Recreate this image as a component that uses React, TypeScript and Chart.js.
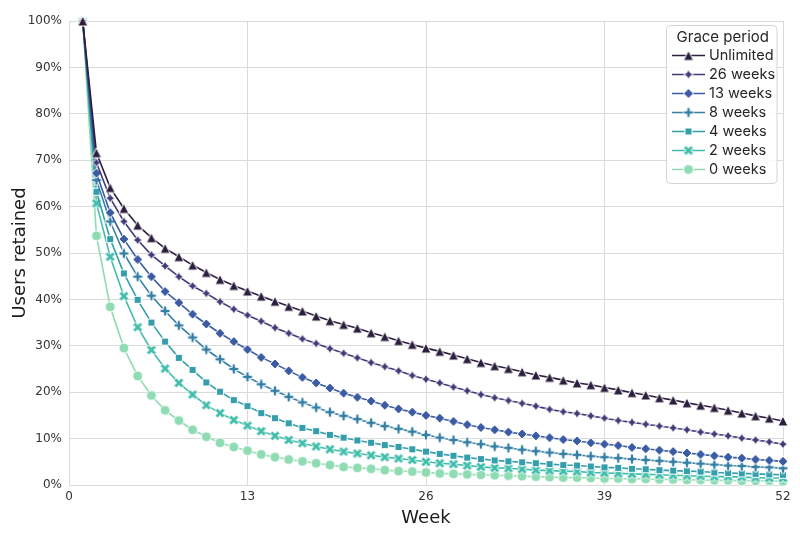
import React, { useEffect, useRef } from "react";
import { Chart, registerables } from "chart.js";

Chart.register(...registerables);

// ---------------- data ----------------
const weeks = [
  1, 2, 3, 4, 5, 6, 7, 8, 9, 10, 11, 12, 13, 14, 15, 16, 17, 18, 19, 20, 21, 22, 23, 24, 25, 26,
  27, 28, 29, 30, 31, 32, 33, 34, 35, 36, 37, 38, 39, 40, 41, 42, 43, 44, 45, 46, 47, 48, 49, 50, 51, 52,
];

const seriesLabels = ["Unlimited", "26 weeks", "13 weeks", "8 weeks", "4 weeks", "2 weeks", "0 weeks"];

const unlimited = [
  100, 71.6, 64.1, 59.6, 56.0, 53.3, 51.0, 49.2, 47.4, 45.8, 44.3, 43.0, 41.8, 40.7, 39.6, 38.5, 37.5,
  36.4, 35.4, 34.6, 33.8, 32.8, 32.0, 31.1, 30.3, 29.5, 28.8, 28.0, 27.2, 26.4, 25.7, 25.1, 24.4, 23.7,
  23.2, 22.6, 22.0, 21.6, 21.0, 20.5, 19.9, 19.4, 18.8, 18.3, 17.7, 17.2, 16.7, 16.1, 15.5, 14.9, 14.4, 13.8,
];
const weeks26 = [
  100, 69.5, 61.8, 56.8, 52.8, 49.6, 47.2, 44.9, 42.9, 41.3, 39.5, 37.9, 36.6, 35.3, 33.9, 32.7, 31.5,
  30.5, 29.4, 28.4, 27.4, 26.4, 25.5, 24.6, 23.6, 22.8, 22.0, 21.1, 20.3, 19.5, 18.8, 18.2, 17.6, 17.0,
  16.3, 15.8, 15.4, 14.9, 14.4, 13.9, 13.5, 13.1, 12.7, 12.3, 11.9, 11.4, 11.0, 10.6, 10.1, 9.7, 9.3, 8.8,
];
const weeks13 = [
  100, 67.2, 58.7, 53.0, 48.6, 44.9, 41.7, 39.3, 36.8, 34.7, 32.7, 30.9, 29.2, 27.5, 26.1, 24.6, 23.2,
  22.0, 20.9, 19.8, 18.9, 18.1, 17.2, 16.4, 15.7, 15.0, 14.4, 13.7, 13.0, 12.4, 11.9, 11.4, 11.0, 10.6,
  10.2, 9.8, 9.5, 9.1, 8.8, 8.5, 8.1, 7.8, 7.5, 7.2, 6.9, 6.6, 6.3, 6.0, 5.8, 5.5, 5.3, 5.1,
];
const weeks8 = [
  100, 65.7, 56.8, 49.9, 44.9, 40.8, 37.5, 34.4, 31.8, 29.2, 27.1, 25.0, 23.3, 21.7, 20.3, 19.0, 17.8,
  16.7, 15.7, 14.9, 14.2, 13.4, 12.7, 12.1, 11.5, 10.8, 10.2, 9.7, 9.2, 8.8, 8.3, 8.0, 7.6, 7.3,
  7.0, 6.7, 6.5, 6.2, 6.0, 5.8, 5.6, 5.4, 5.2, 5.0, 4.8, 4.6, 4.4, 4.2, 4.1, 3.9, 3.8, 3.6,
];
const weeks4 = [
  100, 63.2, 53.0, 45.6, 39.9, 35.0, 30.9, 27.4, 24.8, 22.1, 20.1, 18.3, 17.0, 15.5, 14.4, 13.3, 12.3,
  11.6, 10.8, 10.2, 9.6, 9.1, 8.6, 8.2, 7.7, 7.2, 6.7, 6.3, 5.9, 5.6, 5.3, 5.1, 4.9, 4.7,
  4.5, 4.3, 4.2, 4.0, 3.8, 3.7, 3.5, 3.4, 3.2, 3.1, 3.0, 2.9, 2.7, 2.6, 2.5, 2.4, 2.3, 2.2,
];
const weeks2 = [
  100, 60.7, 49.2, 40.7, 34.0, 29.1, 25.1, 22.0, 19.5, 17.2, 15.5, 14.0, 12.8, 11.6, 10.6, 9.7, 9.0,
  8.3, 7.7, 7.2, 6.8, 6.4, 6.0, 5.7, 5.4, 5.0, 4.7, 4.5, 4.2, 3.9, 3.7, 3.6, 3.4, 3.2,
  3.1, 3.0, 2.9, 2.7, 2.6, 2.5, 2.4, 2.3, 2.2, 2.1, 2.0, 1.9, 1.8, 1.8, 1.7, 1.6, 1.5, 1.5,
];
const weeks0 = [
  100, 53.7, 38.4, 29.5, 23.5, 19.3, 16.1, 13.9, 11.9, 10.4, 9.1, 8.2, 7.4, 6.6, 6.0, 5.5, 5.1,
  4.7, 4.3, 3.9, 3.7, 3.5, 3.2, 3.0, 2.9, 2.7, 2.5, 2.4, 2.3, 2.2, 2.1, 2.0, 1.9, 1.8,
  1.7, 1.6, 1.6, 1.5, 1.4, 1.4, 1.3, 1.3, 1.2, 1.2, 1.1, 1.1, 1.0, 1.0, 0.9, 0.9, 0.9, 0.8,
];

const seriesValues = [unlimited, weeks26, weeks13, weeks8, weeks4, weeks2, weeks0];

const xTicks = [0, 13, 26, 39, 52];
const yTicks = [0, 10, 20, 30, 40, 50, 60, 70, 80, 90, 100];

// ---------------- styles ----------------
const seriesColors = ["#2c1e3d", "#403b77", "#3b5ca4", "#357fa5", "#349eaa", "#41bdab", "#8fdbb2"];
type MarkerKind = "tri" | "star4" | "diamond" | "plus" | "square" | "x" | "circle";
const seriesMarkers: MarkerKind[] = ["tri", "star4", "diamond", "plus", "square", "x", "circle"];

const GRID = "#dadada";
const TEXT = "#333333";
const TICK_FONT = "DejaVu Sans";
const LEGEND_FONT = "Inter, 'Noto Sans', sans-serif";

function makeMarker(kind: MarkerKind, color: string, S = 10): HTMLCanvasElement {
  const size = 16;
  const c = document.createElement("canvas");
  c.width = size;
  c.height = size;
  const ctx = c.getContext("2d")!;
  ctx.translate(size / 2, size / 2);
  const h = S / 2;
  ctx.beginPath();
  const poly = (pts: number[][], k: number) => {
    pts.forEach((p, i) => {
      if (i === 0) ctx.moveTo(p[0] * k, p[1] * k);
      else ctx.lineTo(p[0] * k, p[1] * k);
    });
    ctx.closePath();
  };
  switch (kind) {
    case "circle":
      ctx.arc(0, 0, h, 0, Math.PI * 2);
      break;
    case "tri":
      poly([[0, -1], [1, 1], [-1, 1]], h);
      break;
    case "square": {
      const a = h * Math.SQRT1_2;
      poly([[-a, -a], [a, -a], [a, a], [-a, a]], 1);
      break;
    }
    case "diamond":
      poly([[0, -1], [1, 0], [0, 1], [-1, 0]], h);
      break;
    case "star4": {
      const pts: number[][] = [];
      for (let i = 0; i < 8; i++) {
        const ang = -Math.PI / 2 + (i * Math.PI) / 4;
        const r = i % 2 === 0 ? 1 : 0.5;
        pts.push([Math.cos(ang) * r, Math.sin(ang) * r]);
      }
      poly(pts, h);
      break;
    }
    case "plus":
      poly(
        [[-1, -3], [1, -3], [1, -1], [3, -1], [3, 1], [1, 1], [1, 3], [-1, 3], [-1, 1], [-3, 1], [-3, -1], [-1, -1]],
        S / 6
      );
      break;
    case "x":
      poly(
        [[-1, -2], [0, -1], [1, -2], [2, -1], [1, 0], [2, 1], [1, 2], [0, 1], [-1, 2], [-2, 1], [-1, 0], [-2, -1]],
        S / 4
      );
      break;
  }
  ctx.fillStyle = color;
  ctx.fill();
  ctx.lineWidth = 1;
  ctx.lineJoin = "miter";
  ctx.strokeStyle = "#ffffff";
  ctx.stroke();
  return c;
}

const legendPlugin = {
  id: "graceLegend",
  afterDraw(chart: any) {
    const ctx: CanvasRenderingContext2D = chart.ctx;
    const datasets = chart.data.datasets;
    const box = { x: 666.5, y: 25.5, w: 110.5, h: 158 };
    ctx.save();
    ctx.beginPath();
    const r = 4;
    ctx.moveTo(box.x + r, box.y);
    ctx.arcTo(box.x + box.w, box.y, box.x + box.w, box.y + box.h, r);
    ctx.arcTo(box.x + box.w, box.y + box.h, box.x, box.y + box.h, r);
    ctx.arcTo(box.x, box.y + box.h, box.x, box.y, r);
    ctx.arcTo(box.x, box.y, box.x + box.w, box.y, r);
    ctx.closePath();
    ctx.fillStyle = "rgba(255,255,255,0.85)";
    ctx.fill();
    ctx.strokeStyle = "#d4d4d4";
    ctx.lineWidth = 1;
    ctx.stroke();

    ctx.fillStyle = "#262626";
    ctx.font = `15px ${LEGEND_FONT}`;
    ctx.textAlign = "center";
    ctx.textBaseline = "middle";
    ctx.fillText("Grace period", box.x + box.w / 2 + 1, 37);

    ctx.textAlign = "left";
    ctx.font = `14.5px ${LEGEND_FONT}`;
    datasets.forEach((ds: any, i: number) => {
      const y = 55.5 + i * 19;
      ctx.save();
      ctx.strokeStyle = ds.borderColor;
      ctx.lineWidth = 1.5;
      ctx.beginPath();
      ctx.moveTo(672, y);
      ctx.lineTo(705, y);
      ctx.stroke();
      ctx.restore();
      const m: HTMLCanvasElement = ds.pointStyle;
      ctx.drawImage(m, 688.5 - m.width / 2, y - m.height / 2);
      ctx.fillStyle = "#262626";
      ctx.fillText(ds.label, 709, y + 0.5);
    });
    ctx.restore();
  },
};

export default function App() {
  const ref = useRef<HTMLCanvasElement | null>(null);

  useEffect(() => {
    document.body.style.margin = "0";
    const canvas = ref.current!;
    const datasets = seriesLabels.map((label, i) => ({
      label,
      data: weeks.map((w, j) => ({ x: w, y: seriesValues[i][j] })),
      borderColor: seriesColors[i],
      backgroundColor: seriesColors[i],
      borderWidth: 1.6,
      pointStyle: makeMarker(seriesMarkers[i], seriesColors[i]),
      pointRadius: 5,
      pointHoverRadius: 5,
      tension: 0,
      clip: false as any,
      order: i,
    }));

    const chart = new Chart(canvas, {
      type: "line",
      data: { datasets },
      options: {
        animation: false,
        responsive: false,
        maintainAspectRatio: false,
        layout: { padding: { left: 0, right: 17, top: 21, bottom: 0 } },
        plugins: { legend: { display: false }, tooltip: { enabled: false } },
        scales: {
          x: {
            type: "linear",
            min: 0,
            max: 52,
            afterBuildTicks: (s: any) => {
              s.ticks = xTicks.map((v) => ({ value: v }));
            },
            afterFit: (s: any) => {
              s.height = 51;
            },
            ticks: {
              autoSkip: false,
              maxRotation: 0,
              padding: 5,
              color: TEXT,
              font: { family: TICK_FONT, size: 12 },
            },
            grid: { color: GRID, lineWidth: 1, drawTicks: false },
            border: { color: GRID, width: 1 },
            title: {
              display: true,
              text: "Week",
              color: "#1a1a1a",
              font: { family: TICK_FONT, size: 18 },
              padding: { top: 0, bottom: 7 },
            },
          },
          y: {
            min: 0,
            max: 100,
            afterBuildTicks: (s: any) => {
              s.ticks = yTicks.map((v) => ({ value: v }));
            },
            afterFit: (s: any) => {
              s.width = 69;
            },
            ticks: {
              padding: 7,
              color: TEXT,
              font: { family: TICK_FONT, size: 12 },
              callback: (v: any) => `${v}%`,
            },
            grid: { color: GRID, lineWidth: 1, drawTicks: false },
            border: { color: GRID, width: 1 },
            title: {
              display: true,
              text: "Users retained",
              color: "#1a1a1a",
              font: { family: TICK_FONT, size: 18 },
              padding: { top: 10, bottom: 0 },
            },
          },
        },
      },
      plugins: [legendPlugin],
    } as any);

    return () => chart.destroy();
  }, []);

  return (
    <div style={{ width: 800, height: 536 }}>
      <canvas ref={ref} width={800} height={536} style={{ display: "block" }} />
    </div>
  );
}
